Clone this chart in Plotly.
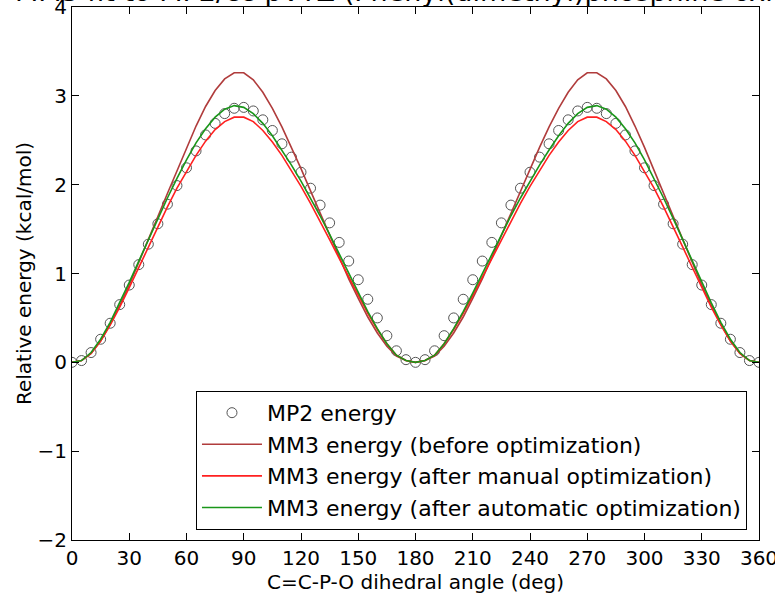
import plotly.graph_objects as go

angles = list(range(0, 361, 5))

mp2_energy = [
    0.00, 0.02, 0.11, 0.26, 0.44, 0.65, 0.87, 1.10, 1.33, 1.56, 1.78, 1.99, 2.19,
    2.38, 2.56, 2.69, 2.80, 2.86, 2.87, 2.83, 2.73, 2.61, 2.46, 2.31, 2.14, 1.96,
    1.77, 1.57, 1.35, 1.14, 0.93, 0.71, 0.50, 0.30, 0.13, 0.03, 0.00,
    0.03, 0.13, 0.30, 0.50, 0.71, 0.93, 1.14, 1.35, 1.57, 1.77, 1.96, 2.14, 2.31,
    2.46, 2.61, 2.73, 2.83, 2.87, 2.86, 2.80, 2.69, 2.56, 2.38, 2.19, 1.99, 1.78,
    1.56, 1.33, 1.10, 0.87, 0.65, 0.44, 0.26, 0.11, 0.02, 0.00,
]

mm3_before = [
    0.00, 0.02, 0.10, 0.24, 0.43, 0.64, 0.87, 1.12, 1.38, 1.64, 1.90, 2.16, 2.42,
    2.66, 2.88, 3.06, 3.19, 3.26, 3.26, 3.18, 3.04, 2.86, 2.65, 2.42, 2.18, 1.93,
    1.68, 1.43, 1.18, 0.94, 0.72, 0.51, 0.33, 0.18, 0.07, 0.02, 0.00,
    0.02, 0.07, 0.18, 0.33, 0.51, 0.72, 0.94, 1.18, 1.43, 1.68, 1.93, 2.18, 2.42,
    2.65, 2.86, 3.04, 3.18, 3.26, 3.26, 3.19, 3.06, 2.88, 2.66, 2.42, 2.16, 1.90,
    1.64, 1.38, 1.12, 0.87, 0.64, 0.43, 0.24, 0.10, 0.02, 0.00,
]

mm3_manual = [
    0.00, 0.02, 0.10, 0.24, 0.42, 0.62, 0.84, 1.07, 1.30, 1.53, 1.75, 1.96, 2.15,
    2.33, 2.49, 2.62, 2.71, 2.76, 2.76, 2.71, 2.61, 2.48, 2.33, 2.16, 1.98, 1.79,
    1.59, 1.38, 1.17, 0.96, 0.75, 0.55, 0.37, 0.21, 0.08, 0.02, 0.00,
    0.02, 0.08, 0.21, 0.37, 0.55, 0.75, 0.96, 1.17, 1.38, 1.59, 1.79, 1.98, 2.16,
    2.33, 2.48, 2.61, 2.71, 2.76, 2.76, 2.71, 2.62, 2.49, 2.33, 2.15, 1.96, 1.75,
    1.53, 1.30, 1.07, 0.84, 0.62, 0.42, 0.24, 0.10, 0.02, 0.00,
]

mm3_auto = [
    0.00, 0.02, 0.11, 0.26, 0.45, 0.67, 0.90, 1.14, 1.38, 1.62, 1.85, 2.07, 2.28,
    2.47, 2.63, 2.76, 2.85, 2.89, 2.87, 2.80, 2.69, 2.55, 2.39, 2.22, 2.04, 1.85,
    1.65, 1.44, 1.22, 1.00, 0.78, 0.57, 0.38, 0.21, 0.08, 0.02, 0.00,
    0.02, 0.08, 0.21, 0.38, 0.57, 0.78, 1.00, 1.22, 1.44, 1.65, 1.85, 2.04, 2.22,
    2.39, 2.55, 2.69, 2.80, 2.87, 2.89, 2.85, 2.76, 2.63, 2.47, 2.28, 2.07, 1.85,
    1.62, 1.38, 1.14, 0.90, 0.67, 0.45, 0.26, 0.11, 0.02, 0.00,
]

x_ticks = list(range(0, 361, 30))
y_ticks = [-2, -1, 0, 1, 2, 3, 4]
y_tick_labels = ["\u22122", "\u22121", "0", "1", "2", "3", "4"]

title_text = "MM3 fit to MP2/cc-pVTZ (Phenyl(dimethyl)phosphine oxide)"
x_title = "C=C-P-O dihedral angle (deg)"
y_title = "Relative energy (kcal/mol)"

FONT = "DejaVu Sans"

fig = go.Figure()
fig.add_trace(go.Scatter(
    x=angles, y=mp2_energy, mode="markers", name="MP2 energy",
    marker=dict(symbol="circle-open", size=10, color="#555555", line=dict(width=1)),
    legendgroup="a",
))
fig.add_trace(go.Scatter(
    x=angles, y=mm3_before, mode="lines", name="MM3 energy (before optimization)",
    line=dict(color="#b03c3c", width=1.6), legendgroup="b",
))
fig.add_trace(go.Scatter(
    x=angles, y=mm3_manual, mode="lines", name="MM3 energy (after manual optimization)",
    line=dict(color="#ff2020", width=1.6), legendgroup="c",
))
fig.add_trace(go.Scatter(
    x=angles, y=mm3_auto, mode="lines", name="MM3 energy (after automatic optimization)",
    line=dict(color="#1a961a", width=1.6), legendgroup="d",
))

axis_common = dict(
    showgrid=False, zeroline=False, showline=True, linecolor="black", linewidth=1,
    mirror="ticks", ticks="inside", ticklen=7, tickcolor="black", tickwidth=1,
    tickfont=dict(family=FONT, size=20, color="black"), automargin=False,
    ticklabeloverflow="allow",
)

fig.update_layout(
    width=775, height=594,
    margin=dict(l=72, r=16, t=7, b=54),
    paper_bgcolor="white", plot_bgcolor="white",
    font=dict(family=FONT, size=20, color="black"),
    showlegend=True,
    legend=dict(
        x=0.9825, y=0.019, xanchor="right", yanchor="bottom",
        bgcolor="white", bordercolor="black", borderwidth=1,
        font=dict(family=FONT, size=22, color="black"),
        tracegroupgap=0, itemwidth=60,
    ),
    xaxis=dict(range=[0, 360], tickvals=x_ticks,
               title=dict(text=x_title, standoff=4, font=dict(family=FONT, size=20)),
               **axis_common),
    yaxis=dict(range=[-2, 4], tickvals=y_ticks, ticktext=y_tick_labels,
               title=dict(text=y_title, standoff=0, font=dict(family=FONT, size=20)),
               **axis_common),
    annotations=[dict(
        text=title_text, xref="paper", yref="paper", x=0.5, y=1, yanchor="middle",
        yshift=16, showarrow=False, font=dict(family=FONT, size=27, color="black"),
    )],
)

fig.write_html("out.html", config={"displayModeBar": False},
               post_script="document.body.style.margin='0';")
